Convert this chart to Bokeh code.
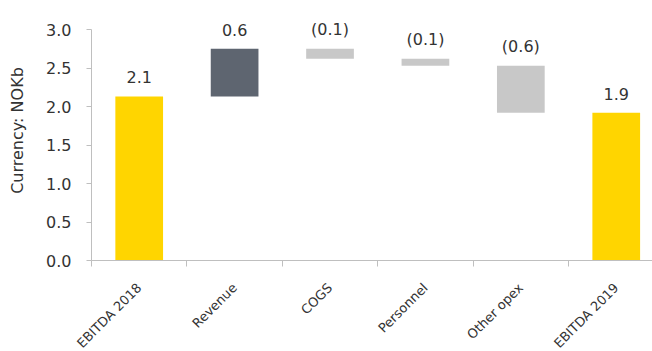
import math
from bokeh.plotting import figure
from bokeh.models import Range1d, FixedTicker, PrintfTickFormatter, ColumnDataSource
from bokeh.core.properties import value
from bokeh.embed import file_html
from bokeh.resources import INLINE

# ---- data ----
categories = ["EBITDA 2018", "Revenue", "COGS", "Personnel", "Other opex", "EBITDA 2019"]
values = [2.13, 0.62, -0.13, -0.09, -0.61, 1.92]
kinds = ["total", "delta", "delta", "delta", "delta", "total"]
y_ticks = [0.0, 0.5, 1.0, 1.5, 2.0, 2.5, 3.0]

YELLOW = "#FFD500"
DARK = "#5E6570"
LIGHT = "#C8C8C8"
TEXT = "#333333"
AXIS = "#BFBFBF"
FONT = "DejaVu Sans"

# ---- waterfall geometry from the values ----
xs, bottoms, tops, colors, labels = [], [], [], [], []
running = 0.0
for i, (v, k) in enumerate(zip(values, kinds)):
    xs.append(i + 0.5)
    if k == "total":
        b, t = 0.0, v
        running = v
        colors.append(YELLOW)
    else:
        b, t = running, running + v
        running = t
        colors.append(DARK if v >= 0 else LIGHT)
    bottoms.append(b)
    tops.append(t)
    labels.append(f"{abs(v):.1f}" if v >= 0 else f"({abs(v):.1f})")

src = ColumnDataSource(dict(
    x=xs, bottom=bottoms, top=tops, color=colors, label=labels,
    label_y=[max(b, t) for b, t in zip(bottoms, tops)],
))

p = figure(
    frame_width=561, frame_height=260,
    x_range=Range1d(0, 5.88), y_range=Range1d(0, 260 / 77.0),
    output_backend="svg", toolbar_location=None,
    min_border_left=91, min_border_right=0, min_border_top=0, min_border_bottom=0,
)
p.outline_line_color = None
p.xgrid.visible = False
p.ygrid.visible = False
p.background_fill_color = "white"
p.border_fill_color = "white"

p.vbar(x="x", bottom="bottom", top="top", width=0.5, fill_color="color",
       line_color=None, source=src)

p.text(x="x", y="label_y", text="label", source=src, y_offset=-19,
       text_align="center", text_baseline="alphabetic",
       text_font=value(FONT), text_font_size="16px", text_color=TEXT)

# y axis
ya = p.yaxis[0]
ya.ticker = FixedTicker(ticks=y_ticks)
ya.formatter = PrintfTickFormatter(format="%.1f")
ya.bounds = (0, 3.0)
ya.axis_line_color = AXIS
ya.major_tick_line_color = AXIS
ya.major_tick_out = 5
ya.major_tick_in = 0
ya.minor_tick_line_color = None
ya.major_label_standoff = 15
ya.major_label_text_font = FONT
ya.major_label_text_font_size = "16px"
ya.major_label_text_color = TEXT
ya.axis_label = "Currency: NOKb"
ya.axis_label_text_font = FONT
ya.axis_label_text_font_size = "16px"
ya.axis_label_text_font_style = "normal"
ya.axis_label_text_color = TEXT
ya.axis_label_standoff = 16

# x axis
xa = p.xaxis[0]
xa.ticker = FixedTicker(ticks=xs, minor_ticks=list(range(len(categories))))
xa.major_label_overrides = {x: c for x, c in zip(xs, categories)}
xa.major_label_orientation = math.pi / 4
xa.axis_line_color = AXIS
xa.major_tick_line_color = None
xa.major_tick_out = 0
xa.major_tick_in = 0
xa.minor_tick_line_color = AXIS
xa.minor_tick_out = 6
xa.minor_tick_in = 0
xa.major_label_standoff = 19
xa.major_label_text_font = FONT
xa.major_label_text_font_size = "13px"
xa.major_label_text_color = TEXT

open("out.html", "w").write(file_html(p, INLINE))
